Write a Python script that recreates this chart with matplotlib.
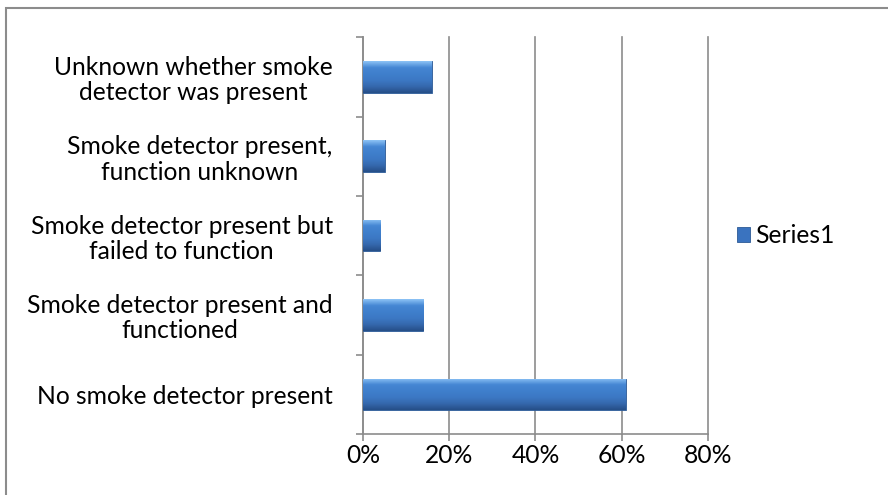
import numpy as np
import matplotlib
matplotlib.use('Agg')
import matplotlib.pyplot as plt
from matplotlib.patches import Rectangle
from matplotlib.ticker import FuncFormatter, MultipleLocator

categories = [
    'No smoke detector present',
    'Smoke detector present and\nfunctioned',
    'Smoke detector present but\nfailed to function',
    'Smoke detector present,\nfunction unknown',
    'Unknown whether smoke\ndetector was present',
]
values = [0.61, 0.14, 0.04, 0.05, 0.16]
series_name = 'Series1'

plt.rcParams['font.family'] = ['Lato', 'DejaVu Sans']
fs = 17.7

fig = plt.figure(figsize=(8.88, 4.95), dpi=100)
ax = fig.add_axes([0.409, 0.123, 0.388, 0.802])

y = np.arange(len(categories))
bars = ax.barh(y, values, height=0.4, color='#3a73bf', edgecolor='#2c5a96',
               linewidth=0.6, label=series_name, zorder=3)

# vertical gradient to mimic the bevelled Excel bars
grad = np.linspace(0, 1, 64).reshape(-1, 1)
cmap = matplotlib.colors.LinearSegmentedColormap.from_list(
    'bev', ['#264f88', '#3568ad', '#3c78c4', '#3f7fcc', '#4586d3', '#8cc2f5'])
for b in bars:
    x0, y0, w, h = b.get_x(), b.get_y(), b.get_width(), b.get_height()
    im = ax.imshow(grad, cmap=cmap, aspect='auto', origin='lower',
                   extent=[x0, x0 + w, y0, y0 + h], zorder=3.5)
    im.set_clip_path(b)

ax.set_xlim(0, 0.8)
ax.set_ylim(-0.5, len(categories) - 0.5)
ax.xaxis.set_major_locator(MultipleLocator(0.2))
ax.xaxis.set_major_formatter(FuncFormatter(lambda v, p: f'{v * 100:.0f}%'))
ax.set_yticks(y)
ax.set_yticklabels(categories, fontsize=fs, ha='right', multialignment='center',
                   linespacing=1.12)
ax.set_yticks(np.arange(-0.5, len(categories), 1), minor=True)

ax.grid(axis='x', color='#8c8c8c', linewidth=1.2, zorder=0)
for line in ax.get_xgridlines():
    line.set_clip_on(False)
for s in ['top', 'right']:
    ax.spines[s].set_visible(False)
for s in ['left', 'bottom']:
    ax.spines[s].set_color('#8c8c8c')
    ax.spines[s].set_linewidth(1.2)

ax.tick_params(axis='y', which='major', length=0, pad=22)
ax.tick_params(axis='y', which='minor', length=5, color='#8c8c8c', width=1.2)
ax.tick_params(axis='x', length=5, color='#8c8c8c', width=1.2, labelsize=fs, pad=2)

ax.legend(loc='center left', bbox_to_anchor=(1.02, 0.5), frameon=False,
          fontsize=fs, handlelength=0.55, handleheight=0.55, handletextpad=0.2)

# chart-area border: only top and left edges fall inside the image
fig.patches.append(Rectangle((0.0073, -0.1), 1.2, 1.083, transform=fig.transFigure,
                             fill=False, edgecolor='#8c8c8c', linewidth=1.5))

fig.savefig('out.png', dpi=100)
